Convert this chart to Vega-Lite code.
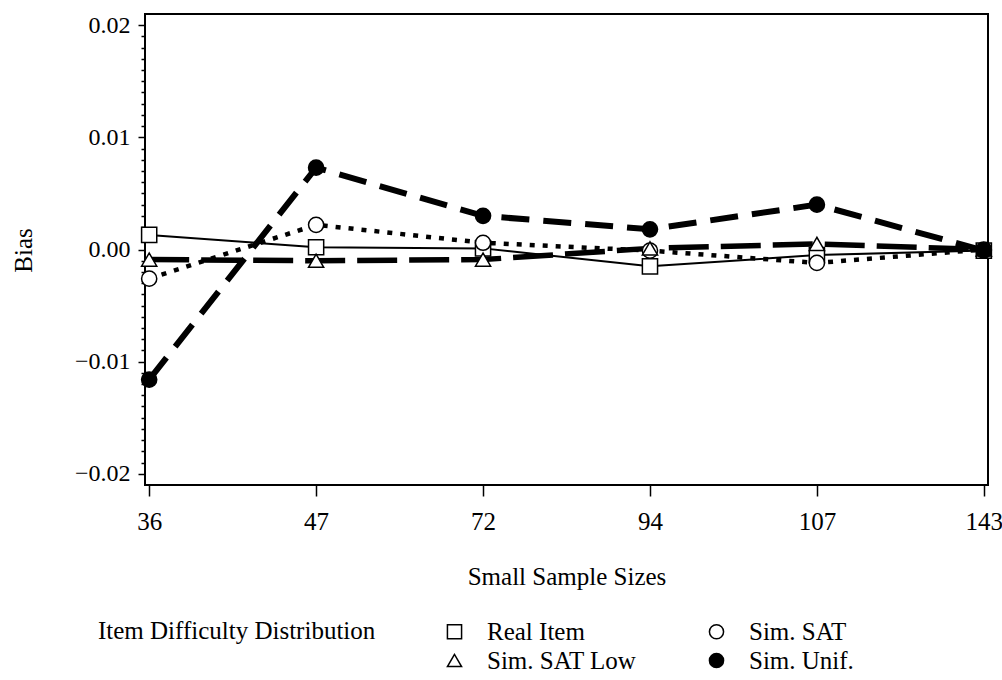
{
  "$schema": "https://vega.github.io/schema/vega-lite/v6.json",
  "width": 843,
  "height": 471,
  "autosize": {"type": "none"},
  "padding": {"left": 145, "top": 14, "right": 14, "bottom": 195},
  "background": "white",
  "config": {
    "font": "Liberation Serif",
    "view": {"stroke": "black", "strokeWidth": 2},
    "axis": {"titleFontWeight": "normal", "labelColor": "black", "titleColor": "black", "tickColor": "black", "grid": false, "domain": false},
    "legend": {"titleFontWeight": "normal"}
  },
  "data": {
    "values": [
      {"n": 36, "series": "Real Item", "bias": 0.0013},
      {"n": 47, "series": "Real Item", "bias": 0.0002},
      {"n": 72, "series": "Real Item", "bias": 0.0001},
      {"n": 94, "series": "Real Item", "bias": -0.0015},
      {"n": 107, "series": "Real Item", "bias": -0.0005},
      {"n": 143, "series": "Real Item", "bias": -0.0001},
      {"n": 36, "series": "Sim. SAT", "bias": -0.0026},
      {"n": 47, "series": "Sim. SAT", "bias": 0.0022},
      {"n": 72, "series": "Sim. SAT", "bias": 0.0006},
      {"n": 94, "series": "Sim. SAT", "bias": -0.0001},
      {"n": 107, "series": "Sim. SAT", "bias": -0.0012},
      {"n": 143, "series": "Sim. SAT", "bias": 0.0},
      {"n": 36, "series": "Sim. SAT Low", "bias": -0.0009},
      {"n": 47, "series": "Sim. SAT Low", "bias": -0.0010},
      {"n": 72, "series": "Sim. SAT Low", "bias": -0.0009},
      {"n": 94, "series": "Sim. SAT Low", "bias": 0.0001},
      {"n": 107, "series": "Sim. SAT Low", "bias": 0.0005},
      {"n": 143, "series": "Sim. SAT Low", "bias": 0.0},
      {"n": 36, "series": "Sim. Unif.", "bias": -0.0116},
      {"n": 47, "series": "Sim. Unif.", "bias": 0.0073},
      {"n": 72, "series": "Sim. Unif.", "bias": 0.0030},
      {"n": 94, "series": "Sim. Unif.", "bias": 0.0018},
      {"n": 107, "series": "Sim. Unif.", "bias": 0.0040},
      {"n": 143, "series": "Sim. Unif.", "bias": -0.0001}
    ]
  },
  "resolve": {"axis": {"y": "independent"}},
  "layer": [
    {
      "transform": [{"filter": "datum.series === 'Real Item'"}],
      "mark": {"type": "line", "color": "black", "strokeWidth": 2},
      "encoding": {
        "x": {
          "field": "n", "type": "ordinal", "sort": [36, 47, 72, 94, 107, 143],
          "scale": {"type": "point", "padding": 0.025},
          "axis": {"orient": "bottom", "labelAngle": 0, "tickSize": 11, "tickWidth": 1.5, "labelFontSize": 25, "labelPadding": 13, "title": "Small Sample Sizes", "titleFontSize": 25, "titleY": 91, "titleBaseline": "middle"}
        },
        "y": {
          "field": "bias", "type": "quantitative",
          "scale": {"domain": [-0.021, 0.021], "nice": false, "zero": false},
          "axis": {"orient": "left", "values": [-0.02, -0.01, 0, 0.01, 0.02], "format": ".2f", "tickSize": 7, "tickWidth": 1.5, "labelFontSize": 24, "labelPadding": 8, "title": "Bias", "titleFontSize": 25, "titleX": -122, "titleY": 236, "titleAngle": -90, "titleBaseline": "middle", "titleAlign": "center"}
        }
      }
    },
    {
      "transform": [{"filter": "datum.series === 'Sim. SAT'"}],
      "mark": {"type": "line", "color": "black", "strokeWidth": 4.5, "strokeDash": [5, 8], "strokeCap": "butt"},
      "encoding": {
        "x": {"field": "n", "type": "ordinal", "sort": [36, 47, 72, 94, 107, 143]},
        "y": {"field": "bias", "type": "quantitative", "axis": null}
      }
    },
    {
      "transform": [{"filter": "datum.series === 'Sim. SAT Low'"}],
      "mark": {"type": "line", "color": "black", "strokeWidth": 5.5, "strokeDash": [40, 12], "strokeCap": "butt"},
      "encoding": {
        "x": {"field": "n", "type": "ordinal", "sort": [36, 47, 72, 94, 107, 143]},
        "y": {"field": "bias", "type": "quantitative", "axis": null}
      }
    },
    {
      "transform": [{"filter": "datum.series === 'Sim. Unif.'"}],
      "mark": {"type": "line", "color": "black", "strokeWidth": 6, "strokeDash": [28, 14], "strokeCap": "butt"},
      "encoding": {
        "x": {"field": "n", "type": "ordinal", "sort": [36, 47, 72, 94, 107, 143]},
        "y": {"field": "bias", "type": "quantitative", "axis": null}
      }
    },
    {
      "mark": {"type": "point", "filled": true, "stroke": "black", "strokeWidth": 1.5, "size": 230, "opacity": 1},
      "encoding": {
        "x": {"field": "n", "type": "ordinal", "sort": [36, 47, 72, 94, 107, 143]},
        "y": {
          "field": "bias", "type": "quantitative",
          "axis": {"orient": "left", "values": [-0.019, -0.018, -0.017, -0.016, -0.015, -0.014, -0.013, -0.012, -0.011, -0.009, -0.008, -0.007, -0.006, -0.005, -0.004, -0.003, -0.002, -0.001, 0.001, 0.002, 0.003, 0.004, 0.005, 0.006, 0.007, 0.008, 0.009, 0.011, 0.012, 0.013, 0.014, 0.015, 0.016, 0.017, 0.018, 0.019], "tickSize": 4, "tickWidth": 1.5, "labels": false, "title": null}
        },
        "shape": {
          "field": "series", "type": "nominal",
          "scale": {"domain": ["Real Item", "Sim. SAT", "Sim. SAT Low", "Sim. Unif."], "range": ["square", "circle", "triangle-up", "circle"]},
          "legend": {
            "title": "Item Difficulty Distribution", "orient": "none", "legendX": -47, "legendY": 605,
            "direction": "horizontal", "columns": 2, "titleOrient": "left", "titleAnchor": "start", "titleLimit": 500, "titlePadding": 66,
            "titleFontSize": 25, "labelFontSize": 25, "labelLimit": 300, "symbolSize": 200, "labelOffset": 20, "columnPadding": 67, "rowPadding": 3,
            "labelColor": "black", "titleColor": "black",
            "encode": {"symbols": {"update": {"stroke": {"value": "black"}, "strokeWidth": {"value": 1.5}, "opacity": {"value": 1}}}}
          }
        },
        "fill": {
          "field": "series", "type": "nominal",
          "scale": {"domain": ["Real Item", "Sim. SAT", "Sim. SAT Low", "Sim. Unif."], "range": ["white", "white", "white", "black"]}
        }
      }
    }
  ]
}
